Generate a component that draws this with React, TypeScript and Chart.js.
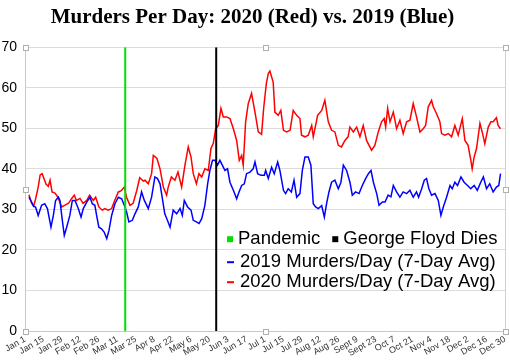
import React, { useEffect, useRef } from "react";
import { Chart, registerables } from "chart.js";

Chart.register(...registerables);

const titleText = "Murders Per Day: 2020 (Red) vs. 2019 (Blue)";

const tickLabels = [
  "Jan 1", "Jan 15", "Jan 29", "Feb 12", "Feb 26", "Mar 11", "Mar 25", "Apr 8", "Apr 22",
  "May 6", "May 20", "Jun 3", "Jun 17", "Jul 1", "Jul 15", "Jul 29", "Aug 12", "Aug 26",
  "Sept 9", "Sept 23", "Oct 7", "Oct 21", "Nov 4", "Nov 18", "Dec 2", "Dec 16", "Dec 30",
];

const pandemicDay = 76;
const floydDay = 145;

const redDays = [
  3, 5, 6.5, 8, 10, 11.5, 13, 14.5, 16, 17.7, 19, 20.5, 22.7, 25, 27.8, 30, 33, 35.4, 37.4, 39,
  41.7, 44, 46.8, 49, 51.8, 53.6, 56, 58.6, 60.6, 63, 65.7, 68, 70.8, 73, 75.3, 77, 79.6, 82, 84.7, 87,
  89.7, 91, 93.5, 96, 97.3, 100, 102.4, 104.9, 107.4, 108.6, 111, 113.7, 116, 118.8, 121.3, 123.8, 125.9, 127.6, 130, 131.9,
  134, 136.4, 139, 141, 142.8, 144.6, 146.6, 148.6, 150.4, 153, 155.4, 158, 160.5, 162.5, 164.3, 165.5, 167.3, 169.3, 171.8, 174.4,
  176.9, 179.4, 181, 183, 184.5, 185.7, 188.2, 189.5, 192, 194, 196, 198.4, 201, 203.4, 206, 208.5, 209.7, 212.3, 214.8, 217.4,
  218.6, 221.9, 225, 227.4, 230, 232.5, 235, 237.6, 240, 242.6, 245, 246.4, 249, 251.5, 254, 256.5, 259, 262.8, 265.3, 267.9,
  270.4, 272.4, 273.5, 275, 276.8, 279.3, 281.8, 284.3, 286.8, 289.4, 291.9, 294.4, 296.9, 299.5, 302, 303.8, 305.8, 308.3, 309.6, 312.1,
  314.6, 315.9, 318.4, 321, 323.5, 326, 328.5, 331.6, 333.6, 336, 338.1, 339.1, 340.6, 342.4, 345, 347, 348.7, 351.3, 353.3, 355,
  357.5, 358.8, 360.6,
];
const redValues = [
  33.6, 31.5, 30.8, 32.5, 35.5, 38.5, 38.8, 37.5, 36.2, 35.7, 37.2, 34.3, 34, 33, 30.6, 31, 31.5, 32.7, 33.5, 32.2,
  32.7, 31.5, 32.2, 33.5, 32.2, 33, 30.6, 29.8, 30.2, 29.8, 30.2, 32.2, 34.3, 34.6, 35.5, 33, 31, 31.5, 34.6, 37.8,
  37, 37.2, 36.3, 38.8, 43.3, 42.6, 40, 35.5, 33.5, 35.5, 38, 37.2, 39.2, 35.5, 40.9, 45.4, 42.9, 38.8, 36.3, 38.8,
  38, 40, 39.6, 45, 46.3, 49.9, 50.7, 54.9, 52.8, 52.8, 52.4, 49.9, 47, 42.1, 43.3, 40.9, 51.6, 56.1, 58.6, 54,
  49.1, 48.5, 55, 61, 63.5, 64.1, 61.4, 54, 53.2, 54.4, 49.5, 49.1, 49.5, 54.4, 53.2, 52.4, 48.3, 47.9, 48.3, 50.7,
  47.9, 53.2, 54.4, 56.9, 51.6, 49.5, 49.1, 45.8, 45.4, 47, 47.9, 50.3, 49.1, 50.3, 47.9, 50.7, 47, 44.6, 45.8, 49.1,
  51.6, 52.4, 50.3, 54.9, 51.6, 54, 49.9, 52, 48.7, 51.6, 52, 56.1, 52.8, 49.1, 49.9, 50.7, 55.3, 56.9, 55.3, 53.6,
  51.6, 48.7, 48.3, 48.7, 47.9, 50.7, 48.3, 52.4, 47, 45.8, 42.1, 40, 42.9, 45, 51.2, 48.7, 46.2, 50.3, 51.6, 51.6,
  52.6, 50.7, 49.9,
];

const blueDays = [
  3, 5, 6.5, 8, 10, 12.6, 15, 17, 19.7, 21.5, 23.2, 25.3, 26.5, 28.3, 29.8, 31.6, 34, 35.9, 37.9, 40.4,
  42.5, 44.2, 46.8, 49.3, 51, 53, 54.3, 56, 58, 60, 62, 63.7, 65.7, 68.2, 70.8, 73.3, 75.3, 77, 78.8, 81.4,
  83.4, 85.9, 88.4, 90.5, 93.5, 96, 98.5, 100.5, 102.4, 104, 106, 108, 110, 112.4, 115, 117.6, 119.3, 120.8, 123.3, 125.9,
  127.6, 130, 132, 134, 136.4, 138.5, 140.2, 142.2, 144, 146, 147.8, 149.6, 151.6, 153.6, 155.4, 158, 160.5, 162.3, 164.3, 166.3,
  168, 170.6, 173, 174.4, 176.4, 178.9, 181.5, 182.5, 184.5, 187, 189, 191.6, 193.3, 196, 197.6, 199.6, 202, 204, 206, 208.5,
  210.3, 212.3, 214.8, 216.8, 218.6, 220.4, 222.4, 225, 227, 228.7, 230.5, 232.5, 235, 237.6, 239.6, 241.4, 243.9, 246.4, 248.2, 250.7,
  253.3, 255.8, 258.3, 260.4, 262.4, 264.2, 266.7, 268.5, 271, 273, 275.4, 277.5, 279.3, 281.8, 284.3, 286.8, 289.4, 291.9, 294.4, 296.9,
  298.5, 300.8, 302.8, 304.5, 306.3, 308.3, 310.9, 313.4, 315.4, 317.2, 319.7, 322.3, 324, 326, 328, 330.6, 333, 335.6, 338, 340.6,
  343, 345.6, 347.6, 350, 352.4, 355, 357.5, 359.3, 360.6,
];
const blueValues = [
  33, 31.8, 30.8, 30.6, 28.5, 31, 31.4, 30.2, 25.6, 28.5, 32.2, 33, 32.2, 27.3, 23.6, 25.6, 28.5, 32.2, 32.2, 30.2,
  28.1, 30.2, 31.8, 33, 31.4, 31, 28.5, 25.6, 25.2, 24.4, 22.8, 24.8, 28.5, 31.4, 33, 32.6, 31, 29.4, 26.9, 27.3,
  28.9, 30.6, 34.3, 32.2, 30.2, 33, 38, 37.6, 36.3, 33, 28.9, 27.3, 25.6, 29.8, 28.9, 30.2, 28.5, 32.2, 30.6, 29.8,
  27.3, 26.9, 26.5, 27.7, 31, 36.3, 39.6, 42.1, 42.1, 40.9, 42.1, 40.9, 39.6, 40, 36.7, 34.7, 32.6, 34.3, 35.9, 36.3,
  38.8, 39.2, 40, 41.7, 38.8, 38.4, 38.4, 39.6, 37.6, 40.4, 38.8, 41.7, 39.6, 34.7, 33.9, 35.1, 34.3, 37.2, 33, 33.9,
  39.6, 42.9, 42.9, 40.9, 31.4, 30.6, 30.2, 30.9, 28.1, 31.4, 34.3, 36.7, 37.2, 35.1, 36.7, 40.9, 39.6, 36.7, 33.5, 34.3,
  33.9, 35.9, 37.6, 38.8, 39.6, 36.7, 33.9, 31, 31.8, 31.8, 33.5, 33.1, 35.9, 34.3, 33, 34.3, 33.9, 34.7, 33, 34.3,
  33, 35.1, 37.2, 37.6, 35.1, 33.5, 33.9, 32.2, 28.5, 30.6, 33, 35.9, 35.1, 36.7, 35.9, 38, 36.7, 35.9, 35.1, 35.9,
  34.7, 36.7, 38, 35.1, 36.3, 34.3, 35.5, 35.9, 38.8,
];

const toPoints = (xs: number[], ys: number[]) => xs.map((x, i) => ({ x, y: ys[i] }));

const overlayPlugin = {
  id: "overlay",
  afterDraw(chart: any) {
    const { ctx, chartArea: a } = chart;
    ctx.save();
    ctx.strokeStyle = "#d0d0d0";
    ctx.lineWidth = 1;
    ctx.beginPath();
    ctx.moveTo(Math.round(a.right) + 0.5, a.top);
    ctx.lineTo(Math.round(a.right) + 0.5, a.bottom);
    ctx.stroke();

    const ds = chart.data.datasets;
    const lx = a.left + 202;
    ctx.font = "18.5px 'Liberation Sans', Arial, sans-serif";
    ctx.textBaseline = "middle";
    ctx.textAlign = "left";
    const row1 = a.top + 192;
    const row2 = a.top + 215;
    const row3 = a.top + 235;
    ctx.fillStyle = ds[0].borderColor;
    ctx.fillRect(lx, row1 - 3, 6, 6);
    ctx.fillStyle = "#000";
    ctx.fillText(ds[0].label, lx + 11, row1);
    const w0 = ctx.measureText(ds[0].label).width;
    const x2 = lx + 11 + w0 + 12;
    ctx.fillStyle = ds[1].borderColor;
    ctx.fillRect(x2, row1 - 3, 6, 6);
    ctx.fillStyle = "#000";
    ctx.fillText(ds[1].label, x2 + 11, row1);
    [[2, row2], [3, row3]].forEach(([i, y]) => {
      ctx.strokeStyle = ds[i].borderColor;
      ctx.lineWidth = 2;
      ctx.beginPath();
      ctx.moveTo(lx, y);
      ctx.lineTo(lx + 7, y);
      ctx.stroke();
      ctx.fillStyle = "#000";
      ctx.fillText(ds[i].label, lx + 13, y);
    });

    const cx = (a.left + a.right) / 2;
    const cy = (a.top + a.bottom) / 2;
    const pts = [
      [a.left, a.top], [cx, a.top], [a.right, a.top],
      [a.left, cy], [a.right, cy],
      [a.left, a.bottom], [cx, a.bottom], [a.right, a.bottom],
    ];
    ctx.lineWidth = 1;
    ctx.strokeStyle = "#b0b0b0";
    ctx.fillStyle = "#fff";
    pts.forEach(([px, py]) => {
      const rx = Math.round(px - 2.5) + 0.5;
      const ry = Math.round(py - 2.5) + 0.5;
      ctx.fillRect(rx, ry, 5, 5);
      ctx.strokeRect(rx, ry, 5, 5);
    });
    ctx.restore();
  },
};

export default function App() {
  const ref = useRef<HTMLCanvasElement | null>(null);

  useEffect(() => {
    document.body.style.margin = "0";
    const canvas = ref.current;
    if (!canvas) return;
    const chart = new Chart(canvas, {
      type: "line",
      data: {
        datasets: [
          {
            label: "Pandemic",
            data: [{ x: pandemicDay, y: 0 }, { x: pandemicDay, y: 70 }],
            borderColor: "#00e000",
            borderWidth: 2,
            pointRadius: 0,
          },
          {
            label: "George Floyd Dies",
            data: [{ x: floydDay, y: 0 }, { x: floydDay, y: 70 }],
            borderColor: "#000000",
            borderWidth: 2,
            pointRadius: 0,
          },
          {
            label: "2019 Murders/Day (7-Day Avg)",
            data: toPoints(blueDays, blueValues),
            borderColor: "#0000ff",
            borderWidth: 1.5,
            pointRadius: 0,
            tension: 0,
          },
          {
            label: "2020 Murders/Day (7-Day Avg)",
            data: toPoints(redDays, redValues),
            borderColor: "#ff0000",
            borderWidth: 1.5,
            pointRadius: 0,
            tension: 0,
          },
        ],
      },
      options: {
        animation: false,
        responsive: false,
        layout: { padding: { left: 0, right: 5, top: 0, bottom: 0 } },
        plugins: {
          legend: { display: false },
          tooltip: { enabled: false },
          title: {
            display: true,
            text: titleText,
            color: "#000",
            font: { family: "'Liberation Serif', 'Times New Roman', serif", size: 21, weight: "bold" },
            padding: { top: 5, bottom: 17 },
          },
        },
        scales: {
          x: {
            type: "linear",
            min: 0,
            max: 364,
            grid: { display: false, drawTicks: false },
            border: { color: "#c8c8c8" },
            afterFit: (scale: any) => {
              scale.paddingLeft = 0;
              scale.paddingRight = 0;
              scale.height = 29;
            },
            ticks: {
              stepSize: 14,
              autoSkip: false,
              maxRotation: 30,
              minRotation: 30,
              padding: 3,
              color: "#333333",
              font: { family: "'Liberation Sans', Arial, sans-serif", size: 9 },
              callback: (_v: any, i: number) => tickLabels[i] ?? "",
            },
          },
          y: {
            min: 0,
            max: 70,
            grid: { color: "#dcdcdc", drawTicks: false },
            border: { color: "#c8c8c8" },
            afterFit: (scale: any) => {
              scale.width = 25;
            },
            ticks: {
              stepSize: 10,
              padding: 8,
              color: "#000",
              font: { family: "'Liberation Sans', Arial, sans-serif", size: 14 },
            },
          },
        },
      },
      plugins: [overlayPlugin],
    } as any);
    return () => chart.destroy();
  }, []);

  return (
    <div style={{ width: 510, height: 360 }}>
      <canvas ref={ref} width={510} height={360} />
    </div>
  );
}
